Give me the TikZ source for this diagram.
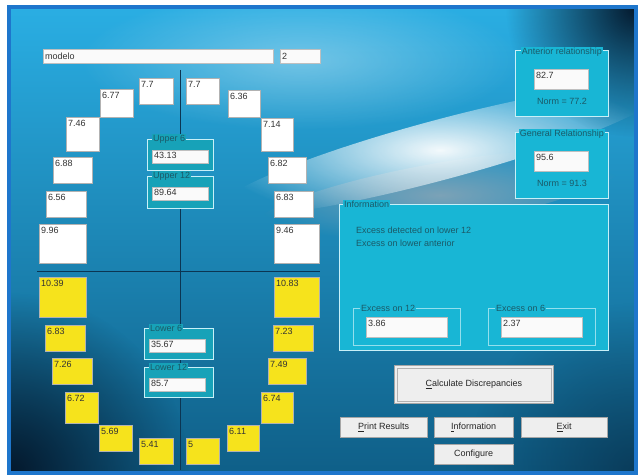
\documentclass[tikz,border=0pt]{standalone}
\usepackage{fontspec}
\setmainfont{Liberation Sans}
\usetikzlibrary{fadings}

\definecolor{frameblue}{HTML}{1E76CC}
\definecolor{skytop}{HTML}{2AAEE3}
\definecolor{skybot}{HTML}{0F5F88}
\definecolor{deepnavy}{HTML}{04182C}
\definecolor{hazegray}{HTML}{8CA6B6}
\definecolor{panelcyan}{HTML}{18B6D5}
\definecolor{groupteal}{HTML}{17A2B8}
\definecolor{edgecyan}{HTML}{C8F0F8}
\definecolor{labelteal}{HTML}{1B5A68}
\definecolor{toothyellow}{HTML}{F6E31C}
\definecolor{btngray}{HTML}{EEEEEE}
\definecolor{midline}{HTML}{0B3552}

\newcommand{\uifont}{\fontsize{9}{10.5}\selectfont}
\tikzfading[name=softspot, inner color=transparent!0, outer color=transparent!100]

\tikzset{
  tooth/.style={draw=gray!60, line width=0.7pt, anchor=north west, inner sep=0pt},
  uppertooth/.style={tooth, fill=white},
  lowertooth/.style={tooth, fill=toothyellow},
  val/.style={anchor=north west, font=\uifont, text=black!80, inner xsep=2pt, inner ysep=3pt},
  field/.style={draw=gray!50, fill=white!96!gray, anchor=north west, inner sep=0pt},
  groupbox/.style={draw=edgecyan, line width=0.8pt, fill=groupteal, anchor=north west, inner sep=0pt},
  panel/.style={draw=edgecyan, line width=0.8pt, fill=panelcyan, anchor=north west, inner sep=0pt},
  caption/.style={font=\uifont, text=labelteal, inner sep=1pt},
  button/.style={draw=gray!70, fill=btngray, font=\uifont, text=black!85, anchor=north west, inner sep=0pt},
}

\begin{document}
\begin{tikzpicture}[x=1pt, y=-1pt]
  \useasboundingbox (0,0) rectangle (640,476);
  \fill[white] (0,0) rectangle (640,476);
  % Window background
  \begin{scope}
    \clip (9,7) rectangle (636,473);
    \shade[top color=skytop, bottom color=skybot] (9,7) rectangle (636,473);
    \fill[white, opacity=0.35, path fading=softspot] (300,60) ellipse (220 and 70);
    \fill[hazegray, opacity=0.85, path fading=softspot, rotate around={10:(440,195)}]
      (440,195) ellipse (190 and 32);
    \fill[white, opacity=0.95, path fading=softspot, rotate around={15:(440,150)}]
      (440,150) ellipse (230 and 30);
    % dark corners
    \fill[deepnavy, path fading=softspot] (9,473) circle (180);
    \fill[deepnavy, path fading=softspot] (636,7) circle (130);
    \fill[deepnavy, opacity=0.5, path fading=softspot] (636,473) circle (170);
  \end{scope}
  \draw[frameblue, line width=4pt] (9,7) rectangle (636,473);

  % Name and number fields
  \node[field, minimum width=230pt, minimum height=14pt] (mod) at (43,49) {};
  \node[val, anchor=west, inner ysep=0pt] (mod-v) at (mod.west) {modelo};
  \node[field, minimum width=40pt, minimum height=14pt] (num) at (280,49) {};
  \node[val, anchor=west, inner ysep=0pt] (num-v) at (num.west) {2};

  % Midlines
  \draw[midline, line width=0.9pt] (180,70) -- (180,470);
  \draw[midline, line width=0.9pt] (37,271) -- (320,271);

  % Upper arch
  \foreach \nm/\x/\y/\w/\h/\tval in {u1/139/78/34/26/7.7, u2/186/78/33/26/7.7,
      u3/100/89/33/28/6.77, u4/228/90/32/27/6.36, u5/66/117/33/34/7.46,
      u6/261/118/32/33/7.14, u7/53/157/39/26/6.88, u8/268/157/38/26/6.82,
      u9/46/191/40/26/6.56, u10/274/191/39/26/6.83, u11/39/224/47/39/9.96,
      u12/274/224/45/39/9.46}{
    \node[uppertooth, minimum width=\w pt, minimum height=\h pt] (\nm) at (\x,\y) {};
    \node[val] (\nm-v) at (\nm.north west) {\tval};
  }
  % Lower arch
  \foreach \nm/\x/\y/\w/\h/\tval in {l1/39/277/47/40/10.39, l2/274/277/45/40/10.83,
      l3/45/325/40/26/6.83, l4/273/325/40/26/7.23, l5/52/358/40/26/7.26,
      l6/268/358/38/26/7.49, l7/65/392/33/31/6.72, l8/261/392/32/31/6.74,
      l9/99/425/33/26/5.69, l10/227/425/32/26/6.11, l11/139/438/34/26/5.41,
      l12/186/438/33/26/5}{
    \node[lowertooth, minimum width=\w pt, minimum height=\h pt] (\nm) at (\x,\y) {};
    \node[val] (\nm-v) at (\nm.north west) {\tval};
  }

  % Sums in the middle
  \foreach \nm/\x/\y/\w/\h/\cap/\tval in {up6/147/139/66/31/Upper 6/43.13,
      up12/147/176/66/32/Upper 12/89.64, lo6/144/328/69/31/Lower 6/35.67,
      lo12/144/367/69/30/Lower 12/85.7}{
    \node[groupbox, minimum width=\w pt, minimum height=\h pt] (\nm) at (\x,\y) {};
    \node[caption, anchor=west, fill=groupteal] (\nm-c) at ([xshift=5pt]\nm.north west) {\cap};
    \node[field, minimum width=56pt, minimum height=13pt] (\nm-f) at ([shift={(5,11)}]\nm.north west) {};
    \node[val, inner ysep=2pt] (\nm-v) at (\nm-f.north west) {\tval};
  }

  % Relationship panels
  \foreach \nm/\y/\cap/\tval/\norm in {ant/50/Anterior relationship/82.7/77.2,
      gen/132/General Relationship/95.6/91.3}{
    \node[panel, minimum width=93pt, minimum height=66pt] (\nm) at (515,\y) {};
    \node[caption, fill=panelcyan] (\nm-c) at ([yshift=-2pt]\nm.north) {\cap};
    \node[field, minimum width=54pt, minimum height=20pt] (\nm-f) at ([shift={(19,19)}]\nm.north west) {};
    \node[val] (\nm-v) at (\nm-f.north west) {\tval};
    \node[caption] (\nm-n) at ([yshift=15pt]\nm.south) {Norm = \norm};
  }

  % Information panel
  \node[panel, minimum width=269pt, minimum height=146pt] (info) at (339,204) {};
  \node[caption, anchor=west, fill=panelcyan] (info-c) at ([xshift=4pt]info.north west) {Information};
  \node[caption, anchor=west] (msg1) at (355,230) {Excess detected on lower 12};
  \node[caption, anchor=west] (msg2) at (355,243) {Excess on lower anterior};
  \foreach \nm/\x/\cap/\tval in {ex12/353/Excess on 12/3.86, ex6/488/Excess on 6/2.37}{
    \node[panel, draw=edgecyan!70!panelcyan, line width=0.6pt, minimum width=107pt, minimum height=37pt] (\nm) at (\x,308) {};
    \node[caption, anchor=west, fill=panelcyan] (\nm-c) at ([xshift=7pt]\nm.north west) {\cap};
    \node[field, minimum width=81pt, minimum height=20pt] (\nm-f) at ([shift={(13,9)}]\nm.north west) {};
    \node[val] (\nm-v) at (\nm-f.north west) {\tval};
  }

  % Buttons
  \node[button, line width=0.8pt, minimum width=159pt, minimum height=38pt] (calc) at (394,365)
    {\underline{C}alculate Discrepancies};
  \draw[gray!60] ([shift={(3,3)}]calc.north west) rectangle ([shift={(-3,-3)}]calc.south east);
  \node[button, minimum width=87pt, minimum height=20pt] (print) at (340,417) {\underline{P}rint Results};
  \node[button, minimum width=79pt, minimum height=20pt] (infobtn) at (434,417) {\underline{I}nformation};
  \node[button, minimum width=86pt, minimum height=20pt] (exit) at (521,417) {\underline{E}xit};
  \node[button, minimum width=79pt, minimum height=20pt] (conf) at (434,444) {Configure};
\end{tikzpicture}
\end{document}
